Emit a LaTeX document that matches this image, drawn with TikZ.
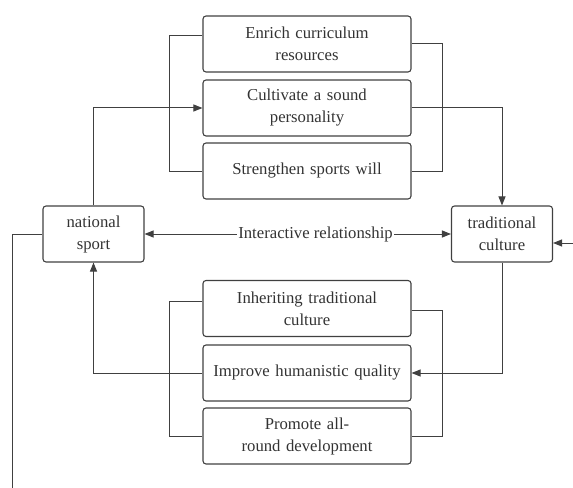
\documentclass[tikz,border=0pt]{standalone}
\usepackage{fontspec}
\setmainfont{Liberation Serif}
\usetikzlibrary{arrows.meta,calc}
\definecolor{ln}{HTML}{404040}
\definecolor{tx}{HTML}{333333}
\begin{document}
\begin{tikzpicture}[x=1bp,y=-1bp,
  box/.style={draw=ln,line width=1.1bp,rounded corners=3bp,minimum width=208bp,minimum height=56bp,
    align=center,inner sep=2bp,text=tx,font=\fontsize{16.7bp}{22bp}\selectfont,text width=204bp},
  sbox/.style={box,minimum width=101bp,text width=97bp},
  conn/.style={draw=ln,line width=1bp},
  arr/.style={conn,-{Triangle[length=9bp,width=7bp]}},
  darr/.style={conn,{Triangle[length=9bp,width=7bp]}-{Triangle[length=9bp,width=7bp]}}]
\useasboundingbox (0,0) rectangle (573,488);
\node[box] (b1) at (307,44) {Enrich curriculum\\resources};
\node[box] (b2) at (307,108) {Cultivate a sound\\personality};
\node[box] (b3) at (307,171) {Strengthen sports will};
\node[box] (b4) at (307,308.5) {Inheriting traditional\\culture};
\node[box] (b5) at (307,373) {Improve humanistic quality};
\node[box] (b6) at (307,436) {Promote all-\\round development};
\node[sbox] (ns) at (93.5,234) {national\\sport};
\node[sbox] (tc) at (502,234) {traditional\\culture};
% brackets
\coordinate (tl) at (169,0);
\coordinate (tr) at (442,0);
\draw[conn] (b1.west |- 0,36) -- (tl |- 0,36) -- (tl |- 0,172) -- (b3.west |- 0,172);
\draw[conn] (b1.east |- 0,44) -- (tr |- 0,44) -- (tr |- 0,172) -- (b3.east |- 0,172);
\draw[conn] (b4.west |- 0,301) -- (tl |- 0,301) -- (tl |- 0,436) -- (b6.west |- 0,436);
\draw[conn] (b4.east |- 0,310) -- (tr |- 0,310) -- (tr |- 0,436) -- (b6.east |- 0,436);
% main arrows
\draw[arr] (ns.north) |- (b2.west);
\draw[arr] (b2.east) -| (tc.north);
\draw[arr] (tc.south) |- (b5.east);
\draw[arr] (b5.west) -| (ns.south);
\draw[darr] (ns.east) -- node[pos=0.558,fill=white,inner sep=1bp,text=tx,font=\fontsize{16.7bp}{20bp}\selectfont] (ir) {Interactive relationship} (tc.west);
% outer lines
\coordinate (lo) at (12,488);
\coordinate (ro) at (573,243);
\draw[conn] (ns.west) -- (lo |- ns.west) -- (lo);
\draw[arr] (ro) -- (tc.east |- ro);
\end{tikzpicture}
\end{document}
